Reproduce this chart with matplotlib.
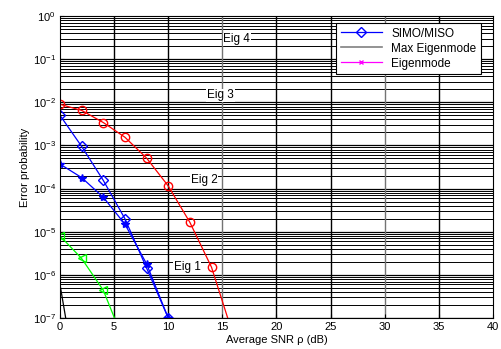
"""Error probability versus average SNR for the eigenmodes."""

from matplotlib import pyplot
from matplotlib.lines import Line2D
import numpy

pyplot.rc('font', family='Liberation Sans', size=8)
pyplot.rc('mathtext', default='regular')

# Values.
snr_simo = [0, 2, 4, 6, 8, 10]
pe_simo = [5e-3, 9.5e-4, 1.55e-4, 2.0e-5, 1.44e-6, 1.0e-7]

snr_star = [0, 2, 4, 6, 8, 10]
pe_star = [3.7e-4, 1.8e-4, 6.3e-5, 1.5e-5, 1.8e-6, 1.0e-7]

snr_red = [0, 2, 4, 6, 8, 10, 12, 14, 16]
pe_red = [9e-3, 6.5e-3, 3.4e-3, 1.55e-3, 5.1e-4, 1.15e-4, 1.65e-5, 1.5e-6,
          4e-8]

snr_green = [0, 2, 4, 6]
pe_green = [8e-6, 2.4e-6, 4.4e-7, 2.5e-8]

snr_black = [0, 1]
pe_black = [6e-7, 2e-8]

labels = [('Eig 4', 15.1, 0.29), ('Eig 3', 13.6, 0.0145),
          ('Eig 2', 12.1, 1.55e-4), ('Eig 1', 10.5, 1.5e-6)]

fig = pyplot.figure(figsize=(5.02, 3.49), dpi=100)
ax = fig.add_axes([0.1195, 0.0888, 0.8625, 0.8652])
ax.set_yscale('log')
ax.set_xlim(0, 40)
ax.set_ylim(1e-7, 1)

# Dense MATLAB-style grid.
for dec in range(-7, 0):
    for m in range(1, 10):
        y = m * 10.0 ** dec
        ax.axhline(y, color='black', linewidth=0.9 if m == 1 else 0.7,
                   zorder=0)
for x in range(5, 40, 5):
    color = '0.45' if x in (15, 30) else 'black'
    ax.axvline(x, color=color, linewidth=1.0, zorder=0)

ax.plot(snr_red, pe_red, color='red', marker='o', markersize=6,
        markerfacecolor='none', linewidth=0.9)
ax.plot(snr_simo, pe_simo, color='blue', marker='D', markersize=5,
        markerfacecolor='none', linewidth=0.9)
ax.plot(snr_star, pe_star, color='blue', marker='*', markersize=6,
        linewidth=0.9)
ax.plot(snr_green, pe_green, color='lime', marker='<', markersize=6,
        markerfacecolor='none', linewidth=0.9)
ax.plot(snr_black, pe_black, color='black', linewidth=0.9)

for text, x, y in labels:
    ax.text(x, y, text, fontsize=8.5, va='center', ha='left',
            bbox=dict(facecolor='white', edgecolor='none', pad=0.5))

ax.set_xlabel('Average SNR ρ (dB)', labelpad=2)
ax.set_ylabel('Error probability', labelpad=2)
ax.set_xticks(range(0, 41, 5))
ax.tick_params(direction='in', length=3, pad=3)
ax.tick_params(which='minor', length=0)

handles = [
    Line2D([], [], color='blue', marker='D', markerfacecolor='none',
           markersize=5, linewidth=0.9),
    Line2D([], [], color='0.5', linewidth=1.2),
    Line2D([], [], color='magenta', marker='x', markersize=3,
           linewidth=0.9),
]
leg = ax.legend(handles, ['SIMO/MISO', 'Max Eigenmode', 'Eigenmode'],
                loc='upper right', bbox_to_anchor=(0.985, 0.995),
                fontsize=8.5, fancybox=False, framealpha=1,
                edgecolor='black', handlelength=3.5, borderpad=0.35,
                labelspacing=0.25)
leg.get_frame().set_linewidth(0.8)

fig.savefig('out.png', dpi=100)
